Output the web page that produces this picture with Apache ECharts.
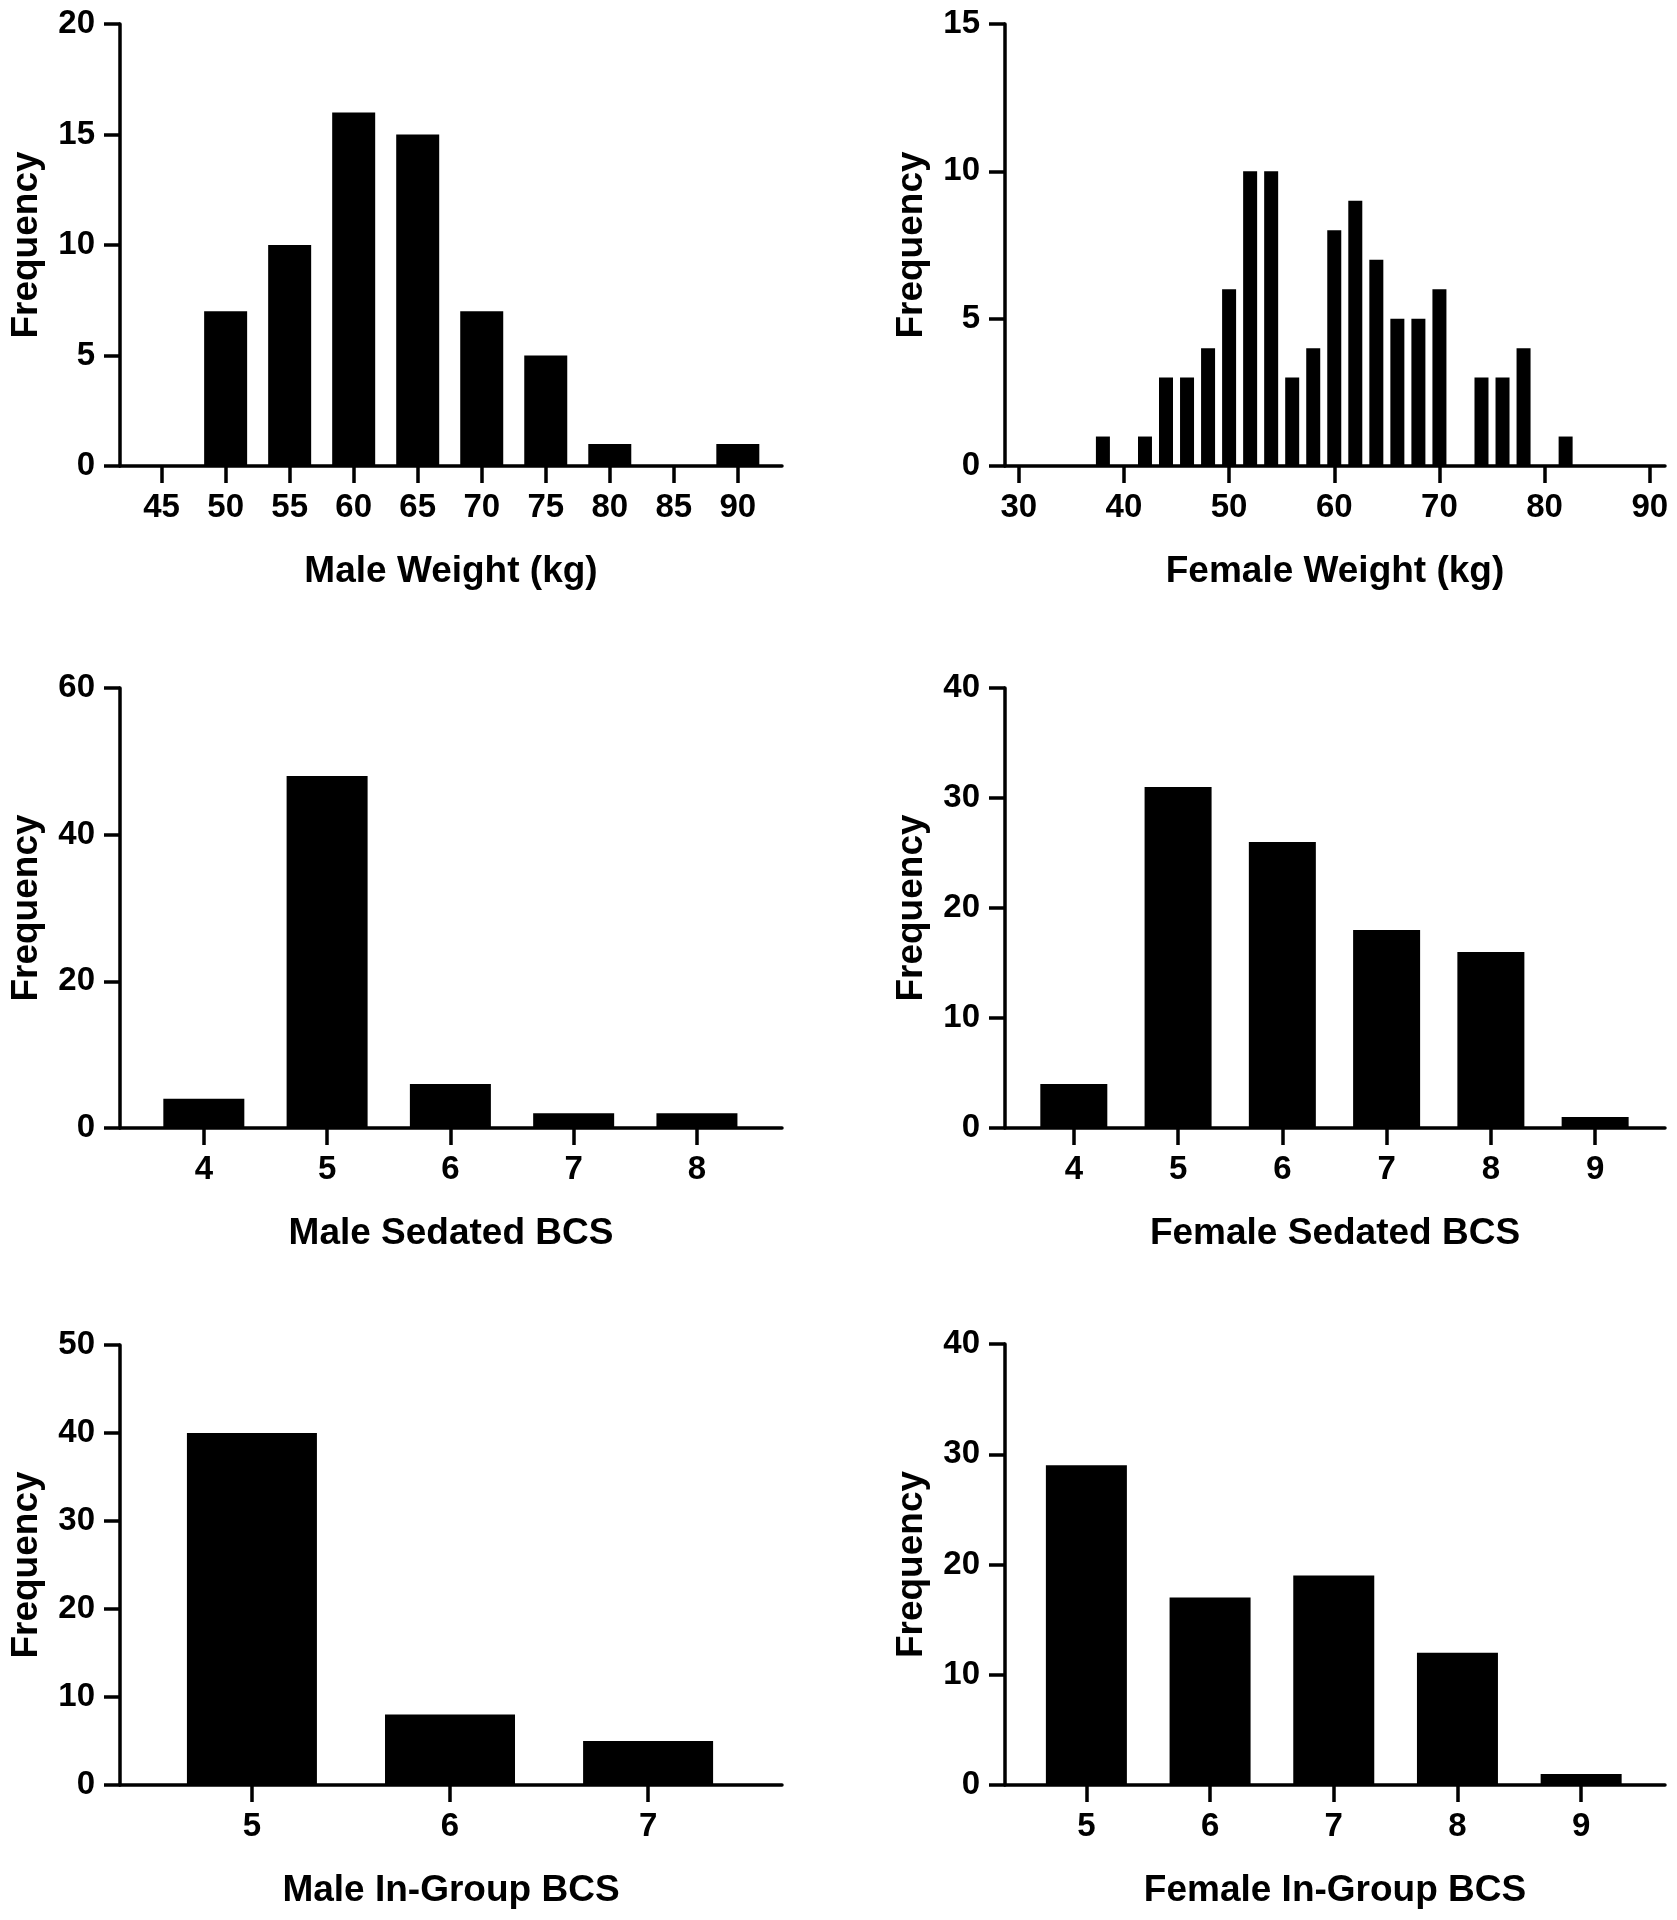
<!DOCTYPE html>
<html>
<head>
<meta charset="utf-8">
<script src="https://cdn.jsdelivr.net/npm/echarts@6/dist/echarts.min.js"></script>
<style>
html,body{margin:0;padding:0;background:#fff;}
#chart{width:1677px;height:1920px;}
</style>
</head>
<body>
<div id="chart"></div>
<script>
// ---- Data ----
var maleWeightBins = [45, 50, 55, 60, 65, 70, 75, 80, 85, 90];
var maleWeightFreq = [0, 7, 10, 16, 15, 7, 5, 1, 0, 1];
var maleWeightTicks = [45, 50, 55, 60, 65, 70, 75, 80, 85, 90];

var femaleWeightBins = [38, 40, 42, 44, 46, 48, 50, 52, 54, 56, 58, 60, 62, 64, 66, 68, 70, 72, 74, 76, 78, 80, 82];
var femaleWeightFreq = [1, 0, 1, 3, 3, 4, 6, 10, 10, 3, 4, 8, 9, 7, 5, 5, 6, 0, 3, 3, 4, 0, 1];
var femaleWeightTicks = [30, 40, 50, 60, 70, 80, 90];

var maleSedatedBins = [4, 5, 6, 7, 8];
var maleSedatedFreq = [4, 48, 6, 2, 2];

var femaleSedatedBins = [4, 5, 6, 7, 8, 9];
var femaleSedatedFreq = [4, 31, 26, 18, 16, 1];

var maleInGroupBins = [5, 6, 7];
var maleInGroupFreq = [40, 8, 5];

var femaleInGroupBins = [5, 6, 7, 8, 9];
var femaleInGroupFreq = [29, 17, 19, 12, 1];

var xTitles = ['Male Weight (kg)', 'Female Weight (kg)', 'Male Sedated BCS', 'Female Sedated BCS', 'Male In-Group BCS', 'Female In-Group BCS'];
var yTitle = 'Frequency';

// ---- Layout / style ----
var FONT = '"Liberation Sans", Arial, Helvetica, sans-serif';
var panels = [
  {bins: maleWeightBins, freq: maleWeightFreq, ticks: maleWeightTicks, xmin: 41.75, xmax: 93.45, ymax: 20, yint: 5, bw: 43,
   grid: {left: 120, top: 24, width: 662, height: 442}},
  {bins: femaleWeightBins, freq: femaleWeightFreq, ticks: femaleWeightTicks, xmin: 28.69, xmax: 91.45, ymax: 15, yint: 5, bw: 14,
   grid: {left: 1005, top: 24, width: 660, height: 442}},
  {bins: maleSedatedBins, freq: maleSedatedFreq, ticks: maleSedatedBins, xmin: 3.32, xmax: 8.69, ymax: 60, yint: 20, bw: 81,
   grid: {left: 120, top: 688, width: 662, height: 440}},
  {bins: femaleSedatedBins, freq: femaleSedatedFreq, ticks: femaleSedatedBins, xmin: 3.34, xmax: 9.67, ymax: 40, yint: 10, bw: 67,
   grid: {left: 1005, top: 688, width: 660, height: 440}},
  {bins: maleInGroupBins, freq: maleInGroupFreq, ticks: maleInGroupBins, xmin: 4.334, xmax: 7.676, ymax: 50, yint: 10, bw: 130,
   grid: {left: 120, top: 1345, width: 662, height: 440}},
  {bins: femaleInGroupBins, freq: femaleInGroupFreq, ticks: femaleInGroupBins, xmin: 4.342, xmax: 9.678, ymax: 40, yint: 10, bw: 81,
   grid: {left: 1005, top: 1344, width: 660, height: 441}}
];

var lineStyle = {color: '#000', width: 3.5};
var grids = [], xAxes = [], yAxes = [], series = [];
panels.forEach(function (p, i) {
  grids.push(Object.assign({containLabel: false}, p.grid));
  xAxes.push({
    type: 'value', gridIndex: i, min: p.xmin, max: p.xmax,
    name: xTitles[i], nameLocation: 'middle', nameGap: 87,
    nameTextStyle: {color: '#000', fontSize: 37, fontWeight: 'bold', fontFamily: FONT},
    axisLine: {show: true, onZero: false, lineStyle: lineStyle},
    axisTick: {show: true, length: 17, lineStyle: lineStyle, customValues: p.ticks},
    axisLabel: {show: true, color: '#000', fontSize: 33, fontWeight: 'bold', fontFamily: FONT, margin: 25, customValues: p.ticks},
    splitLine: {show: false}
  });
  yAxes.push({
    type: 'value', gridIndex: i, min: 0, max: p.ymax, interval: p.yint,
    name: yTitle, nameLocation: 'middle', nameGap: 75, nameRotate: 90,
    nameTextStyle: {color: '#000', fontSize: 37, fontWeight: 'bold', fontFamily: FONT},
    axisLine: {show: true, onZero: false, lineStyle: lineStyle},
    axisTick: {show: true, length: 16, lineStyle: lineStyle},
    axisLabel: {show: true, color: '#000', fontSize: 33, fontWeight: 'bold', fontFamily: FONT, margin: 25},
    splitLine: {show: false}
  });
  series.push({
    type: 'bar', xAxisIndex: i, yAxisIndex: i, barWidth: p.bw,
    itemStyle: {color: '#000'},
    data: p.bins.map(function (b, k) { return [b, p.freq[k]]; }),
    silent: true, animation: false
  });
});

var chart = echarts.init(document.getElementById('chart'), null, {renderer: 'canvas'});
chart.setOption({
  backgroundColor: '#fff',
  animation: false,
  grid: grids,
  xAxis: xAxes,
  yAxis: yAxes,
  series: series
});
</script>
</body>
</html>
